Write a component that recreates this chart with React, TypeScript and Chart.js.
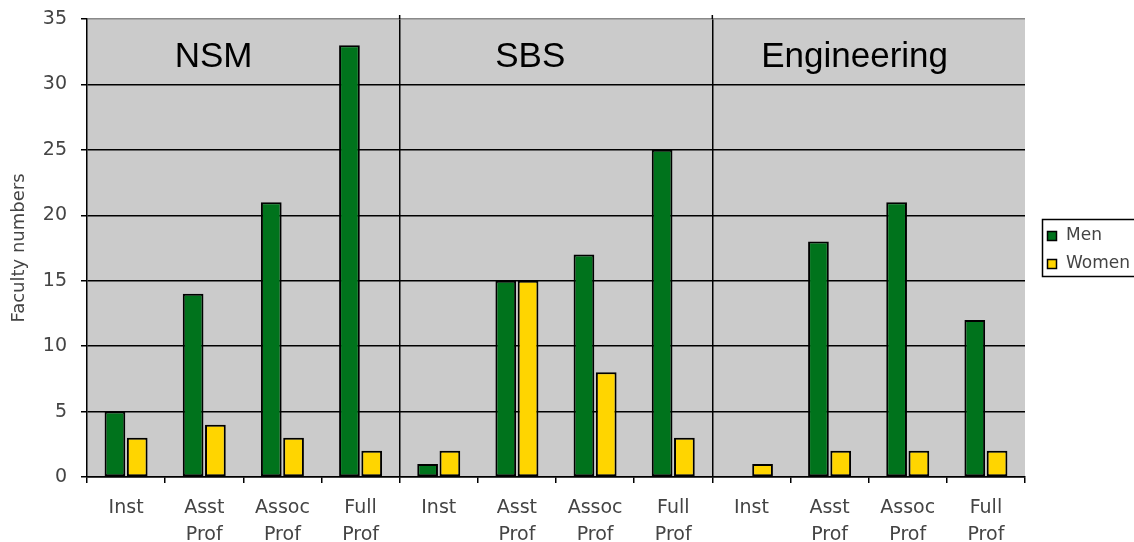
import React, { useEffect, useRef } from "react";
import { Chart, registerables } from "chart.js";

Chart.register(...registerables);

const categories: (string | string[])[] = [
  "Inst", ["Asst", "Prof"], ["Assoc", "Prof"], ["Full", "Prof"],
  "Inst", ["Asst", "Prof"], ["Assoc", "Prof"], ["Full", "Prof"],
  "Inst", ["Asst", "Prof"], ["Assoc", "Prof"], ["Full", "Prof"],
];
const menValues = [5, 14, 21, 33, 1, 15, 17, 25, 0, 18, 21, 12];
const womenValues = [3, 4, 3, 2, 2, 15, 8, 3, 1, 2, 2, 2];
const groupNames = ["NSM", "SBS", "Engineering"];
const groupLabelAnchors = [1.12, 5.17, 9.32];
const groupBoundaries = [3.5, 7.5];
const seriesNames = ["Men", "Women"];

const FAMILY = "'DejaVu Sans', Verdana, sans-serif";
const TICK_FONT = { family: FAMILY, size: 19 };

const bgPlugin = {
  id: "plotBg",
  beforeDraw(chart: any) {
    const { ctx, chartArea } = chart;
    ctx.save();
    ctx.fillStyle = "#cbcbcb";
    ctx.fillRect(chartArea.left, chartArea.top, chartArea.right - chartArea.left, chartArea.bottom - chartArea.top);
    ctx.restore();
  },
};

const groupLabelPlugin = {
  id: "groupLabels",
  afterDatasetsDraw(chart: any) {
    const { ctx, chartArea } = chart;
    const xs = chart.scales.x;
    const ys = chart.scales.y;
    ctx.save();
    ctx.strokeStyle = "#000";
    ctx.lineWidth = 1.5;
    groupBoundaries.forEach((b) => {
      const x = xs.getPixelForValue(b);
      ctx.beginPath();
      ctx.moveTo(x, chartArea.top - 4);
      ctx.lineTo(x, chartArea.top);
      ctx.stroke();
    });
    ctx.fillStyle = "#000";
    ctx.font = "35px 'Liberation Sans', Arial, sans-serif";
    ctx.textAlign = "center";
    ctx.textBaseline = "middle";
    groupNames.forEach((name, i) => {
      const x = xs.getPixelForValue(groupLabelAnchors[i]);
      const y = ys.getPixelForValue(32.1);
      ctx.fillText(name, x, y);
    });
    ctx.restore();
  },
};

const legendPlugin = {
  id: "boxLegend",
  afterDraw(chart: any) {
    const { ctx } = chart;
    const left = 1042;
    const top = 219;
    const w = 100;
    const h = 57;
    ctx.save();
    ctx.fillStyle = "#fff";
    ctx.fillRect(left, top, w, h);
    ctx.strokeStyle = "#000";
    ctx.lineWidth = 1.5;
    ctx.strokeRect(left + 0.5, top + 0.5, w, h);
    ctx.font = "17px " + FAMILY;
    ctx.textBaseline = "middle";
    ctx.textAlign = "left";
    chart.data.datasets.forEach((ds: any, i: number) => {
      const cy = top + 17 + i * 28;
      ctx.fillStyle = ds.backgroundColor;
      ctx.fillRect(left + 5, cy - 5, 10, 10);
      ctx.strokeStyle = "#000";
      ctx.lineWidth = 1.5;
      ctx.strokeRect(left + 5.5, cy - 4.5, 9, 9);
      ctx.fillStyle = "#444";
      ctx.fillText(ds.label, left + 24, cy);
    });
    ctx.restore();
  },
};

export default function App() {
  const ref = useRef<HTMLCanvasElement>(null);
  useEffect(() => {
    document.body.style.margin = "0";
    const chart = new Chart(ref.current as HTMLCanvasElement, {
      type: "bar",
      data: {
        labels: categories,
        datasets: [
          {
            label: seriesNames[0],
            data: menValues,
            backgroundColor: "#00731c",
            borderColor: "#000",
            borderWidth: 2,
            borderSkipped: false,
            barPercentage: 0.93,
            categoryPercentage: 0.57,
          },
          {
            label: seriesNames[1],
            data: womenValues,
            backgroundColor: "#ffd500",
            borderColor: "#000",
            borderWidth: 2,
            borderSkipped: false,
            barPercentage: 0.93,
            categoryPercentage: 0.57,
          },
        ],
      },
      options: {
        animation: false,
        responsive: true,
        maintainAspectRatio: false,
        layout: { padding: { top: 19, right: 109, left: 0, bottom: 0 } },
        plugins: {
          legend: { display: false },
          tooltip: { enabled: false },
        },
        scales: {
          x: {
            offset: true,
            grid: {
              offset: true,
              color: (c: any) => (c.index === 4 || c.index === 8 ? "#000" : "rgba(0,0,0,0)"),
              tickColor: "#000",
              tickLength: 6,
              lineWidth: 1.5,
            },
            border: { color: "#000", width: 1.5 },
            ticks: {
              font: { ...TICK_FONT, lineHeight: 1.4 },
              color: "#444",
              padding: 12,
              maxRotation: 0,
              autoSkip: false,
            },
            afterFit: (s: any) => {
              s.height = 65;
            },
          },
          y: {
            min: 0,
            max: 35,
            ticks: { stepSize: 5, font: TICK_FONT, color: "#444", padding: 14 },
            grid: {
              color: (c: any) => (c.tick && c.tick.value === 35 ? "#8a8a8a" : "#000"),
              tickColor: "#000",
              tickLength: 6,
              lineWidth: 1.5,
            },
            border: { color: "#000", width: 1.5 },
            title: {
              display: true,
              text: "Faculty numbers",
              font: { family: FAMILY, size: 18 },
              color: "#444",
              padding: { top: 9, bottom: 0 },
            },
            afterFit: (s: any) => {
              s.width = 87;
              s.paddingTop = 0;
              s.paddingBottom = 0;
            },
          },
        },
      },
      plugins: [bgPlugin, groupLabelPlugin, legendPlugin],
    } as any);
    return () => chart.destroy();
  }, []);
  return (
    <div style={{ position: "fixed", left: 0, top: 0, width: 1134, height: 542 }}>
      <canvas ref={ref} />
    </div>
  );
}
